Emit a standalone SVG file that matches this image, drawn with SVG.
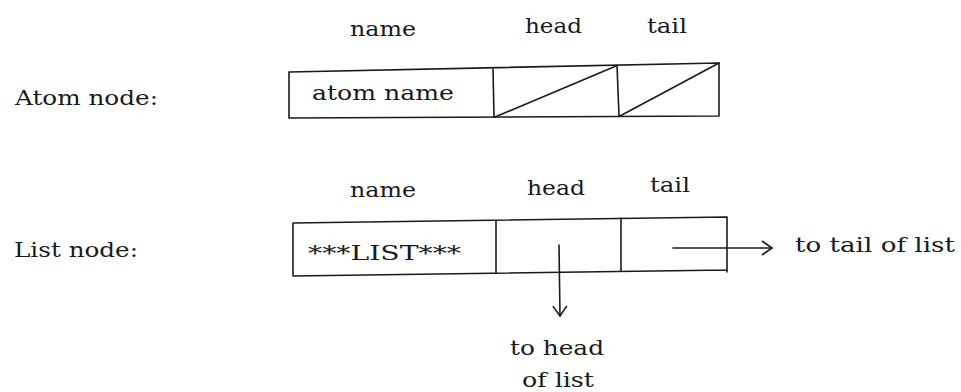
<svg xmlns="http://www.w3.org/2000/svg" width="961" height="392" viewBox="0 0 961 392">
<style>
  text { font-family: "DejaVu Serif", "Liberation Serif", serif; font-size: 21px; fill: #1a1a1a; }
  .ln { stroke: #1a1a1a; stroke-width: 1.6; fill: none; stroke-linecap: round; }
</style>
<defs>
  <marker id="arr" viewBox="0 0 12 16" refX="11" refY="8" markerWidth="12" markerHeight="16" markerUnits="userSpaceOnUse" orient="auto">
    <path d="M1,1 L11,8 L1,15" fill="none" stroke="#1a1a1a" stroke-width="1.6"/>
  </marker>
</defs>
<rect width="961" height="392" fill="#ffffff"/>

<g id="atom-node">
  <text x="15" y="105" textLength="143" lengthAdjust="spacingAndGlyphs">Atom node:</text>
  <text x="350" y="36" textLength="66" lengthAdjust="spacingAndGlyphs">name</text>
  <text x="525" y="33" textLength="57" lengthAdjust="spacingAndGlyphs">head</text>
  <text x="647" y="33" textLength="40" lengthAdjust="spacingAndGlyphs">tail</text>
  <path class="ln" d="M289,72 L719,63 M289,118 L719,116 M289,72 L289,118 M493,68 L494,117 M617,65 L619,116 M719,63 L719,116"/>
  <path class="ln" d="M495,117 L616,66 M620,116 L719,63"/>
  <text x="312" y="100" textLength="142" lengthAdjust="spacingAndGlyphs">atom name</text>
</g>

<g id="list-node">
  <text x="14" y="257" textLength="124" lengthAdjust="spacingAndGlyphs">List node:</text>
  <text x="350" y="197" textLength="66" lengthAdjust="spacingAndGlyphs">name</text>
  <text x="527" y="195" textLength="58" lengthAdjust="spacingAndGlyphs">head</text>
  <text x="650" y="192" textLength="40" lengthAdjust="spacingAndGlyphs">tail</text>
  <path class="ln" d="M293,223 L727,217 M293,276 L727,270 M293,223 L293,276 M496,221 L496,273 M621,218 L621,271 M727,217 L727,272"/>
  <text x="308" y="260" textLength="153" lengthAdjust="spacingAndGlyphs">***LIST***</text>
</g>

<g id="connectors">
  <line class="ln" x1="559" y1="245" x2="560" y2="316" marker-end="url(#arr)"/>
  <line class="ln" x1="673" y1="248" x2="772" y2="248" marker-end="url(#arr)"/>
</g>

<g id="labels">
  <text x="795" y="252" textLength="160" lengthAdjust="spacingAndGlyphs">to tail of list</text>
  <text x="510" y="355" textLength="94" lengthAdjust="spacingAndGlyphs">to head</text>
  <text x="522" y="387" textLength="72" lengthAdjust="spacingAndGlyphs">of list</text>
</g>
</svg>
